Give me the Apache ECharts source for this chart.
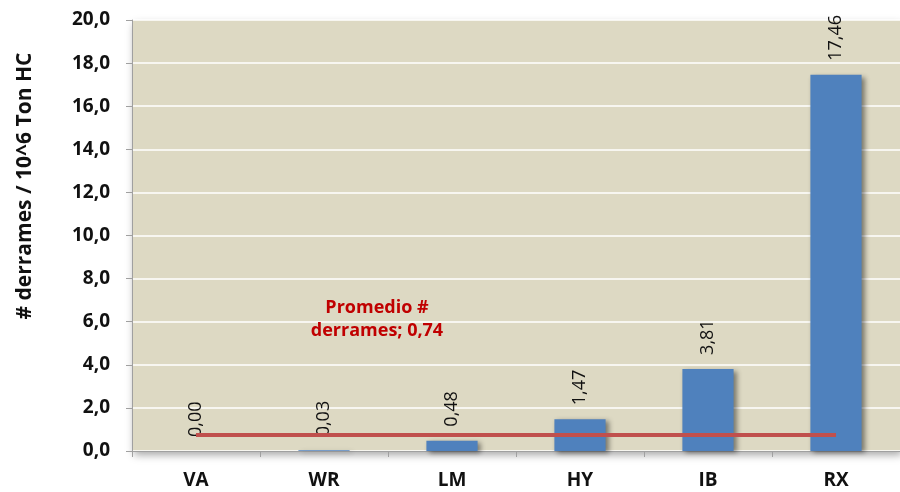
<!DOCTYPE html>
<html>
<head>
<meta charset="utf-8">
<script src="https://cdn.jsdelivr.net/npm/echarts@6/dist/echarts.min.js"></script>
<style>
  html, body { margin: 0; padding: 0; background: #ffffff; }
  #chart { width: 900px; height: 492px; }
</style>
</head>
<body>
<div id="chart"></div>
<script>
// Spill rate per terminal (spills per million tons of hydrocarbons)
const categories = ['VA', 'WR', 'LM', 'HY', 'IB', 'RX'];
const spillRate = [0.00, 0.03, 0.48, 1.47, 3.81, 17.46];
const averageRate = 0.74;
const averageLabel = 'Promedio #\nderrames; 0,74';
const yAxisTitle = '# derrames / 10^6 Ton HC';
const yTicks = { min: 0, max: 20, interval: 2 };

const fmt = (v, d) => v.toFixed(d).replace('.', ',');
const FONT = 'Open Sans';

const chart = echarts.init(document.getElementById('chart'));
chart.setOption({
  animation: false,
  textStyle: { fontFamily: FONT },
  grid: {
    left: 132, right: -4, top: 20, bottom: 41,
    show: true,
    backgroundColor: '#ddd9c3',
    borderWidth: 0,
    shadowColor: 'rgba(0,0,0,0.35)',
    shadowBlur: 8,
    shadowOffsetX: 2,
    shadowOffsetY: 4
  },
  // vertical axis title, reading bottom to top
  graphic: [{
    type: 'text',
    x: 25,
    y: 186,
    rotation: Math.PI / 2,
    style: {
      text: yAxisTitle,
      fill: '#111',
      font: 'bold 21px "Open Sans"',
      align: 'center',
      verticalAlign: 'middle'
    }
  }],
  xAxis: {
    type: 'category',
    data: categories,
    axisLine: { lineStyle: { color: '#a0a0a0', width: 1 } },
    axisTick: { show: true, length: 6, lineStyle: { color: '#a0a0a0' } },
    axisLabel: { color: '#111', fontWeight: 'bold', fontSize: 19, margin: 20, fontFamily: FONT }
  },
  yAxis: {
    type: 'value',
    min: yTicks.min, max: yTicks.max, interval: yTicks.interval,
    axisLine: { show: true, lineStyle: { color: '#a0a0a0', width: 1 } },
    axisTick: { show: true, length: 6, lineStyle: { color: '#a0a0a0' } },
    splitLine: { lineStyle: { color: '#ffffff', width: 1.5 } },
    axisLabel: {
      color: '#111', fontWeight: 'bold', fontSize: 19, margin: 22, fontFamily: FONT,
      formatter: v => fmt(v, 1)
    }
  },
  series: [
    {
      type: 'bar',
      data: spillRate,
      barWidth: '40%',
      itemStyle: {
        color: '#4f81bd',
        shadowColor: 'rgba(0,0,0,0.45)',
        shadowBlur: 5,
        shadowOffsetX: 3,
        shadowOffsetY: 2
      },
      label: {
        show: true,
        position: 'top',
        rotate: 90,
        align: 'left',
        verticalAlign: 'middle',
        distance: 14,
        color: '#111',
        fontSize: 18,
        fontFamily: FONT,
        formatter: p => fmt(p.value, 2)
      },
      z: 2
    },
    {
      type: 'line',
      data: categories.map((c, i) => i === 1
        ? {
            value: averageRate,
            label: {
              show: true,
              position: 'top',
              offset: [53, -88],
              formatter: averageLabel,
              color: '#c00000',
              fontWeight: 'bold',
              fontSize: 18,
              lineHeight: 23,
              align: 'center',
              fontFamily: FONT
            }
          }
        : averageRate),
      symbol: 'circle',
      symbolSize: 0,
      showSymbol: true,
      itemStyle: { color: '#c0504d' },
      lineStyle: { color: '#c0504d', width: 4 },
      z: 3
    }
  ]
});
</script>
</body>
</html>
